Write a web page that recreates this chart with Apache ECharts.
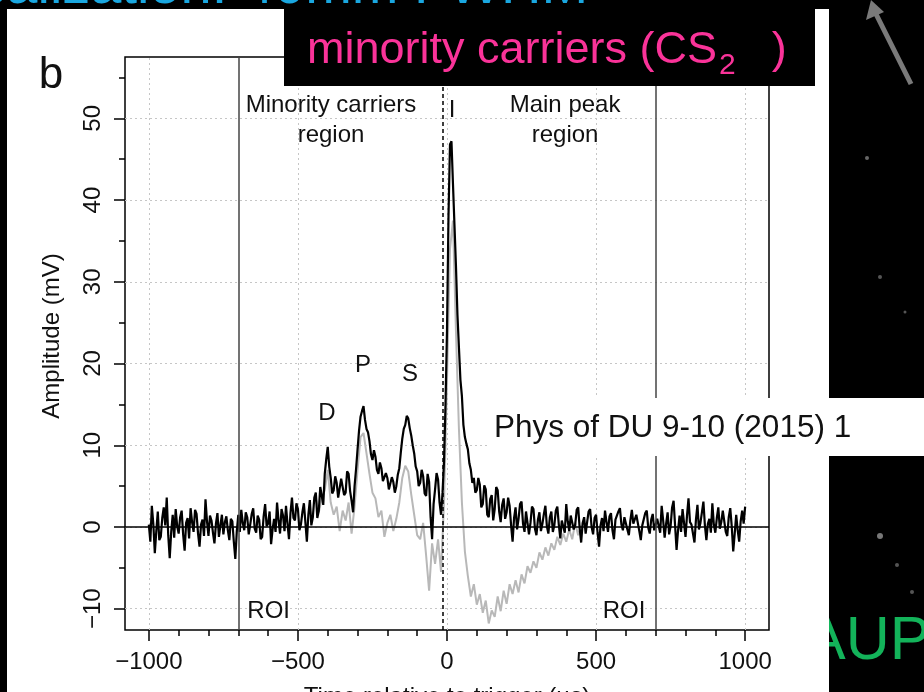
<!DOCTYPE html>
<html><head><meta charset="utf-8">
<script src="https://cdn.jsdelivr.net/npm/echarts@6/dist/echarts.min.js"></script>
<style>html,body{margin:0;padding:0;background:#000}#c{width:924px;height:692px}</style>
</head><body><div id="c"></div>
<script>
const FONT = '"Liberation Sans", Arial, Helvetica, sans-serif';

// ---- data (time in µs, amplitude in mV) ----
const blackStart = -1000;
const blackStep = 5;
const blackAmp = [
  0.3,-1.8,2.6,0.4,-3.2,-0.5,1.9,-1.6,-1.2,1.1,2.4,0.2,3.6,-1.0,-3.8,-0.6,1.5,-1.3,2.2,0.1,
  -0.8,1.2,2.0,-0.9,-2.9,0.5,1.1,-1.4,2.3,0.6,-0.6,2.1,1.6,-0.8,-2.4,0.3,0.9,-1.1,3.4,0.7,
  -1.1,1.4,0.8,-0.7,-2.0,0.4,1.7,-1.2,0.2,1.5,-0.9,0.6,1.3,-0.4,-1.6,1.0,0.7,-1.8,-3.9,-0.5,
  1.5,-0.6,2.1,0.5,-0.4,1.8,1.2,-0.9,0.3,1.6,2.3,-0.2,-0.7,1.4,0.9,-1.5,-1.2,1.3,2.8,0.1,
  0.4,1.9,-2.1,-0.3,1.0,-0.6,3.0,0.8,-0.8,2.2,1.4,-0.5,2.6,0.4,-1.5,1.7,3.6,1.1,0.8,2.9,
  2.2,-0.4,0.3,1.8,2.9,0.6,-1.8,1.5,3.3,0.2,1.2,3.6,4.2,1.1,2.0,4.9,4.8,2.7,6.5,8.3,
  9.8,7.4,6.0,4.1,4.5,6.2,5.4,3.6,3.8,5.9,5.8,3.9,4.2,6.8,6.5,4.4,3.2,1.8,5.0,7.1,
  9.5,11.8,13.5,14.2,14.8,13.1,12.0,11.6,10.5,8.9,8.2,9.4,8.6,7.0,6.5,7.9,7.2,5.6,5.4,6.6,
  6.0,4.6,4.8,6.1,5.5,4.2,5.0,6.4,7.2,9.1,10.8,12.0,12.5,13.6,13.3,12.1,11.2,10.0,9.0,7.4,
  6.8,5.0,5.4,7.0,6.2,4.1,3.8,6.5,5.5,1.2,-1.5,2.8,4.6,6.6,5.8,3.0,1.5,4.2,8.0,15.0,
  24.0,38.0,46.8,47.2,42.0,37.0,32.0,26.0,22.0,18.0,16.0,12.5,11.0,10.2,9.5,7.8,7.0,5.4,6.0,4.2,
  4.5,6.0,5.2,2.4,2.8,5.1,4.6,1.5,1.2,3.4,3.9,0.8,2.2,4.9,4.5,1.9,0.6,2.7,3.5,1.0,
  1.8,3.6,2.6,0.2,-1.8,1.1,2.4,-0.3,1.0,2.8,3.1,0.4,-0.6,1.9,1.7,-0.9,0.5,2.5,2.2,-0.2,
  -1.0,0.9,1.8,-0.5,0.4,1.6,2.6,0.1,-0.8,1.2,1.9,-0.6,0.2,2.0,2.5,0.3,-1.4,0.8,0.9,-0.7,
  2.8,0.7,-0.5,1.4,1.6,-0.3,0.3,2.1,2.4,-0.2,-1.9,0.5,1.2,-0.8,0.6,1.9,2.2,0.0,-0.9,1.1,
  1.5,-0.7,-2.4,0.2,1.1,-0.5,2.0,0.6,-0.6,1.3,1.7,-0.4,-1.5,0.9,0.8,1.9,2.3,0.3,-0.4,1.2,
  1.4,-0.3,-1.0,0.8,2.1,0.4,0.2,1.5,1.3,-0.5,-1.6,0.2,0.4,1.7,2.0,-0.1,-0.8,0.9,1.6,-0.4,
  -0.6,1.0,0.9,-0.7,2.6,0.8,-1.3,0.4,1.8,-0.9,0.1,2.4,3.2,0.2,-2.8,-0.4,1.4,-0.6,2.2,0.5,
  -1.2,1.4,3.5,0.6,0.3,-0.8,-1.9,0.9,2.7,-0.3,0.5,1.8,3.1,0.2,-1.6,0.4,1.0,-0.7,2.9,0.3,
  -0.7,1.1,2.4,-0.2,0.6,2.0,1.9,-0.6,-1.1,1.2,2.3,0.1,-3.0,-0.8,1.5,-0.4,-1.8,0.7,2.0,0.4,
  2.5
];
const grayStart = -440;
const grayStep = 10;
const grayAmp = [
  3.5,1.8,3.5,4.5,7.0,3.0,1.5,2.5,-0.5,2.0,
  0.8,3.0,-0.8,2.5,7.0,11.0,11.5,9.0,6.5,4.2,
  3.5,1.2,2.0,-1.2,0.5,1.5,-0.5,1.0,3.0,6.0,
  7.5,6.8,4.0,1.5,-1.0,-1.5,0.5,-3.5,-7.8,-2.0,
  -4.5,-1.5,-5.5,3.0,18.0,34.0,37.5,24.0,12.0,3.0,
  -3.0,-6.0,-8.5,-7.0,-9.5,-8.2,-10.5,-9.0,-11.8,-10.2,
  -11.0,-8.5,-10.3,-7.8,-9.4,-7.0,-8.2,-6.5,-8.0,-5.8,
  -6.9,-4.8,-5.6,-4.2,-5.0,-3.1,-4.0,-2.5,-3.5,-2.0,
  -2.8,-1.2,-2.2,-0.8,-1.8,-0.3,-1.5,0.5,-1.0,0.2
];
const xTickLabels = [-1000, -500, 0, 500, 1000];
const xMinorTicks = [-1000,-900,-800,-700,-600,-500,-400,-300,-200,-100,0,100,200,300,400,500,600,700,800,900,1000];
const yTickLabels = [-10, 0, 10, 20, 30, 40, 50];
const yMinorTicks = [-10,-5,0,5,10,15,20,25,30,35,40,45,50,55];
const roiBounds = [-700, 700];
const triggerTime = -15;
const annotationTexts = ['Minority carriers\nregion', 'Main peak\nregion', 'I', 'D', 'P', 'S', 'ROI', 'ROI'];

// ---- build ----
const blackData = blackAmp.map((v, i) => [blackStart + i * blackStep, v]);
const grayData = grayAmp.map((v, i) => [grayStart + i * grayStep, v]);
const minus = v => String(v).replace('-', '\u2212');

function textWidth(t, font) {
  const c = document.createElement('canvas').getContext('2d');
  c.font = font; return c.measureText(t).width;
}

const chart = echarts.init(document.getElementById('c'), null, {renderer: 'canvas'});

const pinkMain = 'minority carriers (CS';
const pinkFont = '45px ' + FONT;
const subFont = '30px ' + FONT;
const pinkX = 307;
const w1 = textWidth(pinkMain, pinkFont);
const w2 = textWidth('2', subFont);

const xAxisCommon = {
  type: 'value', min: -1080, max: 1080, gridIndex: 0, position: 'bottom',
  axisLine: {show: false, onZero: false}, splitLine: {show: false}
};
const yAxisCommon = {
  type: 'value', min: -12.6, max: 57.5, gridIndex: 0, position: 'left',
  axisLine: {show: false, onZero: false}, splitLine: {show: false}
};
const tickStyle = {color: '#000', width: 1.5};

const baseGraphics = [
  // backdrop
  {id: 'aup', type: 'text', z: -20, x: 805, y: 642, style: {text: 'AUP', fontSize: 61, fontFamily: FONT, fill: '#13b35a', textVerticalAlign: 'middle'}},
  {id: 'arrowL', type: 'polyline', z: -20, shape: {points: [[911, 84], [876, 14]]}, style: {stroke: '#7a7a7a', lineWidth: 5}},
  {id: 'arrowH', type: 'polygon', z: -20, shape: {points: [[871, 0], [866, 20], [884, 12]]}, style: {fill: '#7a7a7a'}},
  {id: 's1', type: 'circle', z: -20, shape: {cx: 867, cy: 158, r: 2}, style: {fill: '#666'}},
  {id: 's2', type: 'circle', z: -20, shape: {cx: 880, cy: 277, r: 2}, style: {fill: '#555'}},
  {id: 's3', type: 'circle', z: -20, shape: {cx: 905, cy: 312, r: 1.5}, style: {fill: '#555'}},
  {id: 's4', type: 'circle', z: -20, shape: {cx: 880, cy: 536, r: 3}, style: {fill: '#777'}},
  {id: 's5', type: 'circle', z: -20, shape: {cx: 897, cy: 565, r: 2}, style: {fill: '#555'}},
  {id: 's6', type: 'circle', z: -20, shape: {cx: 912, cy: 592, r: 2}, style: {fill: '#555'}},
  {id: 'panel', type: 'rect', z: -10, shape: {x: 7, y: 9, width: 822, height: 683}, style: {fill: '#fff'}},
  {id: 'b', type: 'text', z: -5, x: 51, y: 76, style: {text: 'b', fontSize: 44, fontFamily: FONT, fill: '#111', textAlign: 'center', textVerticalAlign: 'middle'}},
  {id: 'ytitle', type: 'text', z: -5, x: 52, y: 336, rotation: Math.PI / 2, style: {text: 'Amplitude (mV)', fontSize: 24, fontFamily: FONT, fill: '#111', textAlign: 'center', textVerticalAlign: 'middle'}},
  {id: 'xtitle', type: 'text', z: -5, x: 447, y: 697, style: {text: 'Time relative to trigger (\u00b5s)', fontSize: 24, fontFamily: FONT, fill: '#111', textAlign: 'center', textVerticalAlign: 'middle'}},
  // slide overlays
  {id: 'cyan', type: 'text', z: 120, x: -84, y: -12, style: {text: 'Localization: 40mm FWHM', fontSize: 56, fontFamily: FONT, fill: '#1aa7e0', textVerticalAlign: 'middle'}},
  {id: 'pinkBox', type: 'rect', z: 100, shape: {x: 284, y: 7, width: 531, height: 79}, style: {fill: '#000'}},
  {id: 'pink1', type: 'text', z: 101, x: pinkX, y: 51, style: {text: pinkMain, font: pinkFont, fill: '#fa3399', textVerticalAlign: 'middle'}},
  {id: 'pink2', type: 'text', z: 101, x: pinkX + w1 + 2, y: 66, style: {text: '2', font: subFont, fill: '#fa3399', textVerticalAlign: 'middle'}},
  {id: 'pink3', type: 'text', z: 101, x: pinkX + w1 + w2 + 38, y: 51, style: {text: ')', font: pinkFont, fill: '#fa3399', textVerticalAlign: 'middle'}},
  {id: 'physBox', type: 'rect', z: 100, shape: {x: 487, y: 398, width: 437, height: 58}, style: {fill: '#fff'}},
  {id: 'phys', type: 'text', z: 101, x: 494, y: 428, style: {text: 'Phys of DU 9-10 (2015) 1', fontSize: 31.5, fontFamily: FONT, fill: '#111', textVerticalAlign: 'middle'}}
];

const option = {
  backgroundColor: '#000',
  animation: false,
  grid: {left: 125, top: 57, width: 644, height: 573, show: true,
         backgroundColor: '#fff', borderColor: '#000', borderWidth: 1.5},
  xAxis: [
    Object.assign({}, xAxisCommon, {
      axisTick: {show: true, customValues: xTickLabels, length: 11, lineStyle: tickStyle},
      axisLabel: {customValues: xTickLabels, fontSize: 24, fontFamily: FONT, color: '#111', margin: 20, formatter: minus}
    }),
    Object.assign({}, xAxisCommon, {
      axisTick: {show: true, customValues: xMinorTicks, length: 6, lineStyle: tickStyle},
      axisLabel: {show: false}
    })
  ],
  yAxis: [
    Object.assign({}, yAxisCommon, {
      axisTick: {show: true, customValues: yTickLabels, length: 11, lineStyle: tickStyle},
      axisLabel: {customValues: yTickLabels, rotate: 90, fontSize: 24, fontFamily: FONT, color: '#111', margin: 20, formatter: minus}
    }),
    Object.assign({}, yAxisCommon, {
      axisTick: {show: true, customValues: yMinorTicks, length: 6, lineStyle: tickStyle},
      axisLabel: {show: false}
    })
  ],
  series: [
    { // dotted reference grid
      type: 'line', data: [[0, 0]], showSymbol: false, lineStyle: {opacity: 0}, silent: true, z: 1,
      markLine: {silent: true, z: 1, symbol: ['none', 'none'], label: {show: false},
        lineStyle: {color: '#c6c6c6', type: [2, 3], width: 1},
        data: xTickLabels.map(v => ({xAxis: v})).concat(yTickLabels.map(v => ({yAxis: v})))}
    },
    { // gray trace
      type: 'line', data: grayData, showSymbol: false, z: 2,
      lineStyle: {color: '#b8b8b8', width: 2}, silent: true
    },
    { // black trace
      type: 'line', data: blackData, showSymbol: false, z: 3,
      lineStyle: {color: '#000', width: 2.2}, silent: true,
      markLine: {silent: true, z: 5, symbol: ['none', 'none'], label: {show: false},
        data: [
          {yAxis: 0, lineStyle: {color: '#000', width: 1.5, type: 'solid'}},
          {xAxis: roiBounds[0], lineStyle: {color: '#444', width: 1.5, type: 'solid'}},
          {xAxis: roiBounds[1], lineStyle: {color: '#444', width: 1.5, type: 'solid'}},
          {xAxis: triggerTime, lineStyle: {color: '#000', width: 1.5, type: [4, 3]}}
        ]}
    }
  ],
  graphic: baseGraphics
};
chart.setOption(option);

// annotation texts placed in data coordinates via the chart's scales
const annotationCoords = [[-389, 49.8], [396, 49.8], [17, 51.0], [-403, 13.9], [-282, 19.8], [-124, 18.7], [-598, -10.3], [594, -10.3]];
const annGraphics = annotationTexts.map((t, i) => {
  const p = chart.convertToPixel({gridIndex: 0}, annotationCoords[i]);
  return {id: 'ann' + i, type: 'text', z: 10, x: p[0], y: p[1],
          style: {text: t, fontSize: 24, lineHeight: 30, fontFamily: FONT, fill: '#111',
                  textAlign: 'center', textVerticalAlign: 'middle'}};
});
chart.setOption({graphic: baseGraphics.concat(annGraphics)});
</script></body></html>
